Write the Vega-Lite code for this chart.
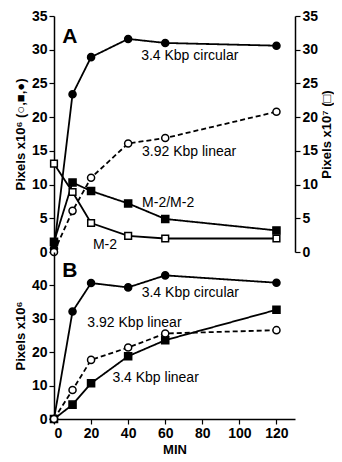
{
  "$schema": "https://vega.github.io/schema/vega-lite/v6.json",
  "padding": {"left": 14, "top": 9, "right": 0, "bottom": 4},
  "spacing": 0,
  "bounds": "flush",
  "config": {
    "view": {"stroke": null},
    "font": "Liberation Sans",
    "axis": {
      "domainColor": "black", "domainWidth": 1.5, "tickColor": "black", "tickWidth": 1.2, "tickSize": 5,
      "labelColor": "black", "labelFont": "Liberation Sans", "labelFontSize": 14, "labelFontWeight": "bold",
      "titleColor": "black", "titleFont": "Liberation Sans", "titleFontSize": 13, "titleFontWeight": "bold",
      "grid": false, "labelPadding": 2, "labelOverlap": false
    }
  },
  "datasets": {
    "series": [
      {"panel": "A", "series": "3.4 Kbp circular", "min": 0, "value": 0.5},
      {"panel": "A", "series": "3.4 Kbp circular", "min": 10, "value": 23.4},
      {"panel": "A", "series": "3.4 Kbp circular", "min": 20, "value": 28.9},
      {"panel": "A", "series": "3.4 Kbp circular", "min": 40, "value": 31.6},
      {"panel": "A", "series": "3.4 Kbp circular", "min": 60, "value": 31.0},
      {"panel": "A", "series": "3.4 Kbp circular", "min": 120, "value": 30.6},
      {"panel": "A", "series": "M-2/M-2", "min": 0, "value": 1.5},
      {"panel": "A", "series": "M-2/M-2", "min": 10, "value": 10.3},
      {"panel": "A", "series": "M-2/M-2", "min": 20, "value": 9.05},
      {"panel": "A", "series": "M-2/M-2", "min": 40, "value": 7.2},
      {"panel": "A", "series": "M-2/M-2", "min": 60, "value": 4.9},
      {"panel": "A", "series": "M-2/M-2", "min": 120, "value": 3.2},
      {"panel": "A", "series": "3.92 Kbp linear", "min": 0, "value": 0},
      {"panel": "A", "series": "3.92 Kbp linear", "min": 10, "value": 6.1},
      {"panel": "A", "series": "3.92 Kbp linear", "min": 20, "value": 11.0},
      {"panel": "A", "series": "3.92 Kbp linear", "min": 40, "value": 16.1},
      {"panel": "A", "series": "3.92 Kbp linear", "min": 60, "value": 16.9},
      {"panel": "A", "series": "3.92 Kbp linear", "min": 120, "value": 20.8},
      {"panel": "A", "series": "M-2", "min": 0, "value": 13.1},
      {"panel": "A", "series": "M-2", "min": 10, "value": 8.9},
      {"panel": "A", "series": "M-2", "min": 20, "value": 4.3},
      {"panel": "A", "series": "M-2", "min": 40, "value": 2.4},
      {"panel": "A", "series": "M-2", "min": 60, "value": 2.0},
      {"panel": "A", "series": "M-2", "min": 120, "value": 2.0},
      {"panel": "B", "series": "3.4 Kbp circular", "min": 0, "value": 0},
      {"panel": "B", "series": "3.4 Kbp circular", "min": 10, "value": 32.2},
      {"panel": "B", "series": "3.4 Kbp circular", "min": 20, "value": 40.7},
      {"panel": "B", "series": "3.4 Kbp circular", "min": 40, "value": 39.4},
      {"panel": "B", "series": "3.4 Kbp circular", "min": 60, "value": 43.0},
      {"panel": "B", "series": "3.4 Kbp circular", "min": 120, "value": 40.8},
      {"panel": "B", "series": "3.4 Kbp linear", "min": 0, "value": 0},
      {"panel": "B", "series": "3.4 Kbp linear", "min": 10, "value": 4.3},
      {"panel": "B", "series": "3.4 Kbp linear", "min": 20, "value": 10.7},
      {"panel": "B", "series": "3.4 Kbp linear", "min": 40, "value": 18.8},
      {"panel": "B", "series": "3.4 Kbp linear", "min": 60, "value": 23.6},
      {"panel": "B", "series": "3.4 Kbp linear", "min": 120, "value": 32.7},
      {"panel": "B", "series": "3.92 Kbp linear", "min": 0, "value": 0},
      {"panel": "B", "series": "3.92 Kbp linear", "min": 10, "value": 8.7},
      {"panel": "B", "series": "3.92 Kbp linear", "min": 20, "value": 17.7},
      {"panel": "B", "series": "3.92 Kbp linear", "min": 40, "value": 21.4},
      {"panel": "B", "series": "3.92 Kbp linear", "min": 60, "value": 25.6},
      {"panel": "B", "series": "3.92 Kbp linear", "min": 120, "value": 26.6}
    ],
    "labels": [
      {"panel": "A", "text": "3.4 Kbp circular", "min": 47, "value": 29.1},
      {"panel": "A", "text": "3.92 Kbp linear", "min": 47.5, "value": 14.8},
      {"panel": "A", "text": "M-2/M-2", "min": 47.5, "value": 7.3},
      {"panel": "A", "text": "M-2", "min": 21, "value": 1.0},
      {"panel": "B", "text": "3.4 Kbp circular", "min": 47.3, "value": 37.8},
      {"panel": "B", "text": "3.92 Kbp linear", "min": 18, "value": 28.8},
      {"panel": "B", "text": "3.4 Kbp linear", "min": 31.5, "value": 12.4}
    ],
    "panels": [
      {"panel": "A", "text": "A", "min": 4.5, "value": 31.9},
      {"panel": "B", "text": "B", "min": 4.5, "value": 44.3}
    ]
  },
  "vconcat": [
    {
      "width": 241,
      "height": 236,
      "layer": [
        {
          "data": {"name": "series"},
          "transform": [{"filter": "datum.panel === 'A' && datum.series !== 'M-2'"}],
          "encoding": {
            "x": {"field": "min", "type": "quantitative", "scale": {"domain": [0, 130], "nice": false},
                  "axis": {"values": [0, 20, 40, 60, 80, 100, 120], "labels": false, "title": null}},
            "y": {"field": "value", "type": "quantitative", "scale": {"domain": [0, 35], "nice": false},
                  "axis": {"orient": "left", "values": [0, 5, 10, 15, 20, 25, 30, 35], "labelOverlap": false, "title": "Pixels x10⁶ (○,■,●)", "titlePadding": 4}},
            "detail": {"field": "series"}
          },
          "layer": [
            {"mark": {"type": "line", "color": "black", "strokeWidth": 1.8},
             "encoding": {"strokeDash": {"field": "series", "type": "nominal", "legend": null,
               "scale": {"domain": ["3.4 Kbp circular", "M-2/M-2", "3.92 Kbp linear", "M-2", "3.4 Kbp linear"], "range": [[1, 0], [1, 0], [5, 3], [1, 0], [1, 0]]}}}},
            {"mark": {"type": "point", "filled": true, "stroke": "black", "strokeWidth": 1.5, "opacity": 1, "size": 50},
             "encoding": {
               "shape": {"field": "series", "type": "nominal", "legend": null,
                 "scale": {"domain": ["3.4 Kbp circular", "M-2/M-2", "3.92 Kbp linear", "M-2", "3.4 Kbp linear"], "range": ["circle", "square", "circle", "square", "square"]}},
               "fill": {"field": "series", "type": "nominal", "legend": null,
                 "scale": {"domain": ["3.4 Kbp circular", "M-2/M-2", "3.92 Kbp linear", "M-2", "3.4 Kbp linear"], "range": ["black", "black", "white", "white", "black"]}}}}
          ]
        },
        {
          "data": {"name": "series"},
          "transform": [{"filter": "datum.panel === 'A' && datum.series === 'M-2'"}],
          "encoding": {
            "x": {"field": "min", "type": "quantitative", "scale": {"domain": [0, 130], "nice": false}, "axis": null},
            "y": {"field": "value", "type": "quantitative", "scale": {"domain": [0, 35], "nice": false},
                  "axis": {"orient": "right", "values": [0, 5, 10, 15, 20, 25, 30, 35], "labelOverlap": false, "title": "Pixels x10⁷ (□)", "titleAngle": 270, "titleBaseline": "top", "titlePadding": 3}}
          },
          "layer": [
            {"mark": {"type": "line", "color": "black", "strokeWidth": 1.8}},
            {"mark": {"type": "point", "shape": "square", "filled": true, "fill": "white", "stroke": "black", "strokeWidth": 1.5, "opacity": 1, "size": 45}}
          ]
        },
        {
          "data": {"name": "labels"},
          "transform": [{"filter": "datum.panel === 'A'"}],
          "mark": {"type": "text", "align": "left", "baseline": "middle", "fontSize": 14, "font": "Liberation Sans", "color": "black"},
          "encoding": {
            "x": {"field": "min", "type": "quantitative", "scale": {"domain": [0, 130], "nice": false}, "axis": null},
            "y": {"field": "value", "type": "quantitative", "scale": {"domain": [0, 35], "nice": false}, "axis": null},
            "text": {"field": "text"}
          }
        },
        {
          "data": {"name": "panels"},
          "transform": [{"filter": "datum.panel === 'A'"}],
          "mark": {"type": "text", "align": "left", "baseline": "middle", "fontSize": 21, "fontWeight": "bold", "font": "Liberation Sans", "color": "black"},
          "encoding": {
            "x": {"field": "min", "type": "quantitative", "scale": {"domain": [0, 130], "nice": false}, "axis": null},
            "y": {"field": "value", "type": "quantitative", "scale": {"domain": [0, 35], "nice": false}, "axis": null},
            "text": {"field": "text"}
          }
        }
      ],
      "resolve": {"scale": {"y": "independent"}}
    },
    {
      "width": 241,
      "height": 167,
      "encoding": {
        "x": {"field": "min", "type": "quantitative", "scale": {"domain": [0, 130], "nice": false},
              "axis": {"values": [0, 20, 40, 60, 80, 100, 120], "labelOverlap": false, "labelFontSize": 14, "title": "MIN", "titleFontSize": 13, "titlePadding": 3}},
        "y": {"field": "value", "type": "quantitative", "scale": {"domain": [0, 50], "nice": false},
              "axis": {"values": [0, 10, 20, 30, 40], "labelOverlap": false, "title": "Pixels x10⁶", "titlePadding": 4}}
      },
      "layer": [
        {
          "data": {"name": "series"},
          "transform": [{"filter": "datum.panel === 'B'"}],
          "encoding": {"detail": {"field": "series"}},
          "layer": [
            {"mark": {"type": "line", "color": "black", "strokeWidth": 1.8},
             "encoding": {"strokeDash": {"field": "series", "type": "nominal", "legend": null,
               "scale": {"domain": ["3.4 Kbp circular", "M-2/M-2", "3.92 Kbp linear", "M-2", "3.4 Kbp linear"], "range": [[1, 0], [1, 0], [5, 3], [1, 0], [1, 0]]}}}},
            {"mark": {"type": "point", "filled": true, "stroke": "black", "strokeWidth": 1.5, "opacity": 1, "size": 50},
             "encoding": {
               "shape": {"field": "series", "type": "nominal", "legend": null,
                 "scale": {"domain": ["3.4 Kbp circular", "M-2/M-2", "3.92 Kbp linear", "M-2", "3.4 Kbp linear"], "range": ["circle", "square", "circle", "square", "square"]}},
               "fill": {"field": "series", "type": "nominal", "legend": null,
                 "scale": {"domain": ["3.4 Kbp circular", "M-2/M-2", "3.92 Kbp linear", "M-2", "3.4 Kbp linear"], "range": ["black", "black", "white", "white", "black"]}}}}
          ]
        },
        {
          "data": {"name": "labels"},
          "transform": [{"filter": "datum.panel === 'B'"}],
          "mark": {"type": "text", "align": "left", "baseline": "middle", "fontSize": 14, "font": "Liberation Sans", "color": "black"},
          "encoding": {"text": {"field": "text"}}
        },
        {
          "data": {"name": "panels"},
          "transform": [{"filter": "datum.panel === 'B'"}],
          "mark": {"type": "text", "align": "left", "baseline": "middle", "fontSize": 21, "fontWeight": "bold", "font": "Liberation Sans", "color": "black"},
          "encoding": {"text": {"field": "text"}}
        }
      ]
    }
  ]
}
